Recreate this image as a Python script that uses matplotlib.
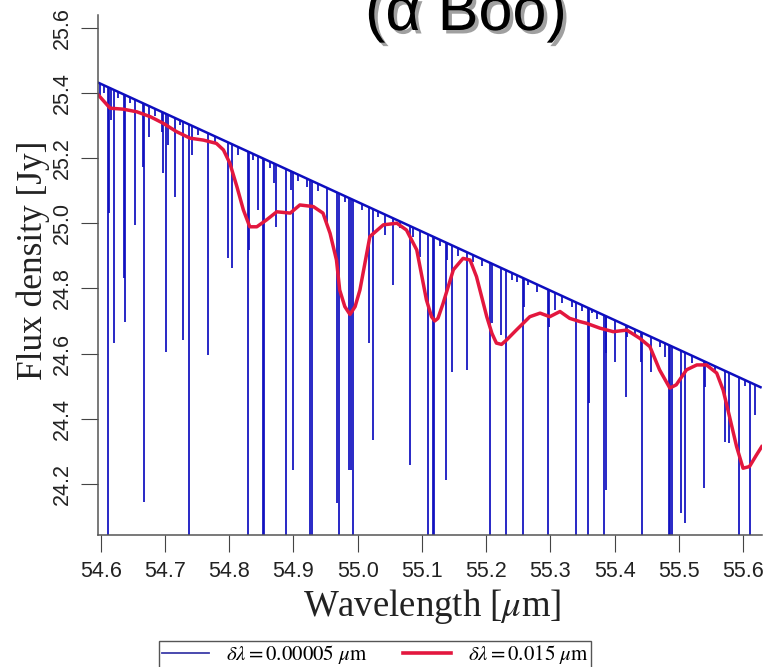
import numpy as np
import matplotlib
matplotlib.use('Agg')
import matplotlib.pyplot as plt
import matplotlib.patheffects as pe
from matplotlib.lines import Line2D

plt.rcParams['mathtext.fontset'] = 'stix'

# continuum of the high-resolution spectrum (end points)
cont_wl = [54.5953, 55.629]
cont_flux = [25.432, 24.495]

# absorption lines: centre wavelength and minimum flux
line_wl = [
    54.599, 54.6051, 54.6118, 54.6134, 54.6156, 54.6212, 54.6269, 54.6367, 54.6383, 54.6456,
    54.6534, 54.6654, 54.6669, 54.6752, 54.6845, 54.6949, 54.6974, 54.7011, 54.7052, 54.7156,
    54.7234, 54.7285, 54.7374, 54.7416, 54.7514, 54.7674, 54.7779, 54.7976, 54.8039, 54.8137,
    54.8288, 54.8308, 54.8365, 54.8453, 54.8521, 54.8541, 54.8635, 54.8702, 54.8723, 54.8879,
    54.8961, 54.8993, 54.9070, 54.9206, 54.9262, 54.9284, 54.9381, 54.9517, 54.9682, 54.9704,
    54.9801, 54.9869, 54.9890, 54.9931, 55.0062, 55.0175, 55.0242, 55.0315, 55.0424, 55.0544,
    55.0657, 55.0813, 55.0865, 55.0969, 55.1098, 55.1176, 55.1191, 55.1280, 55.1369, 55.1384,
    55.1472, 55.1560, 55.1696, 55.1798, 55.1933, 55.2063, 55.2085, 55.2229, 55.2307, 55.2405,
    55.2478, 55.2572, 55.2592, 55.2654, 55.2789, 55.2956, 55.2976, 55.3070, 55.3178, 55.3330,
    55.3392, 55.3490, 55.3588, 55.3604, 55.3641, 55.3723, 55.3837, 55.3859, 55.3874, 55.4014,
    55.4175, 55.4190, 55.4314, 55.4408, 55.4428, 55.4574, 55.4703, 55.4792, 55.4848, 55.4870,
    55.4890, 55.5041, 55.5093, 55.5201, 55.5393, 55.5409, 55.5559, 55.5715, 55.5778, 55.5938,
    55.6025, 55.6104, 55.6182,
]
line_min = [
    25.394, 25.40, 23.90, 25.031, 25.317, 24.633, 25.385, 24.832, 24.697, 25.37,
    24.995, 25.173, 24.145, 25.265, 25.33, 25.280, 25.154, 24.605, 25.240, 25.081,
    25.30, 24.642, 23.90, 25.209, 25.27, 24.596, 25.25, 24.893, 24.863, 25.21,
    23.90, 24.918, 25.194, 25.041, 23.90, 23.90, 25.17, 25.123, 24.988, 23.90,
    25.102, 24.243, 25.13, 25.111, 23.90, 23.90, 25.10, 25.001, 24.142, 23.90,
    25.065, 24.243, 24.243, 23.90, 25.041, 24.633, 24.335, 25.02, 24.964, 24.811,
    24.985, 24.258, 24.958, 24.896, 23.90, 23.90, 23.90, 24.93, 24.212, 24.887,
    24.544, 24.90, 24.550, 24.881, 24.87, 23.90, 24.694, 24.657, 23.90, 24.826,
    24.82, 23.90, 24.743, 24.811, 24.79, 23.90, 24.682, 24.734, 24.755, 24.743,
    23.90, 24.73, 23.90, 24.448, 24.725, 24.705, 23.90, 24.181, 24.602, 24.574,
    24.467, 24.651, 24.655, 24.574, 23.90, 24.544, 24.62, 24.590, 23.90, 23.90,
    23.90, 24.111, 24.080, 24.57, 24.188, 24.498, 24.54, 24.329, 24.326, 23.90,
    24.50, 23.90, 24.412,
]

# smoothed spectrum (delta lambda = 0.015 um)
smooth_wl = [
    54.596, 54.6145, 54.635, 54.656, 54.677, 54.697, 54.718, 54.739, 54.760, 54.780,
    54.791, 54.801, 54.812, 54.822, 54.832, 54.843, 54.858, 54.874, 54.895, 54.910,
    54.931, 54.946, 54.957, 54.967, 54.972, 54.980, 54.988, 54.996, 55.0035, 55.019,
    55.040, 55.061, 55.076, 55.092, 55.107, 55.115, 55.120, 55.125, 55.133, 55.149,
    55.164, 55.175, 55.185, 55.201, 55.209, 55.216, 55.224, 55.232, 55.247, 55.268,
    55.284, 55.299, 55.315, 55.330, 55.346, 55.356, 55.377, 55.398, 55.419, 55.439,
    55.455, 55.470, 55.486, 55.496, 55.512, 55.528, 55.543, 55.559, 55.569, 55.579,
    55.590, 55.600, 55.610, 55.621, 55.629,
]
smooth_flux = [
    25.394, 25.353, 25.350, 25.342, 25.327, 25.307, 25.281, 25.261, 25.255, 25.245,
    25.225, 25.184, 25.112, 25.041, 24.989, 24.989, 25.010, 25.035, 25.031, 25.056,
    25.051, 25.031, 24.969, 24.887, 24.795, 24.744, 24.720, 24.744, 24.795, 24.959,
    24.995, 25.000, 24.979, 24.918, 24.765, 24.713, 24.700, 24.708, 24.754, 24.857,
    24.892, 24.887, 24.836, 24.713, 24.662, 24.632, 24.628, 24.642, 24.672, 24.713,
    24.724, 24.713, 24.729, 24.708, 24.698, 24.693, 24.678, 24.667, 24.672, 24.647,
    24.621, 24.550, 24.494, 24.504, 24.550, 24.565, 24.565, 24.540, 24.488, 24.406,
    24.314, 24.248, 24.253, 24.289, 24.314,
]

xticks = [54.6, 54.7, 54.8, 54.9, 55.0, 55.1, 55.2, 55.3, 55.4, 55.5, 55.6]
yticks = [24.2, 24.4, 24.6, 24.8, 25.0, 25.2, 25.4, 25.6]

blue = '#0e0ebf'
red = '#e3173e'

fig = plt.figure(figsize=(7.8, 6.67), dpi=100)
ax = fig.add_axes([0.1253, 0.1979, 0.8512, 0.7796])

# high-resolution spectrum: continuum plus absorption lines
line_top = np.interp(line_wl, cont_wl, cont_flux)
ax.plot(cont_wl, cont_flux, color=blue, lw=1.8, solid_capstyle='butt')
ax.vlines(line_wl, line_min, line_top, color=blue, lw=1.25)

ax.plot(smooth_wl, smooth_flux, color=red, lw=2.5, solid_joinstyle='round')

ax.set_xlim(54.5953, 55.629)
ax.set_ylim(24.043, 25.639)

ax.set_xticks(xticks)
ax.set_xticklabels(['%.1f' % v for v in xticks], family='Liberation Sans')
ax.set_yticks(yticks)
ax.set_yticklabels(['%.1f' % v for v in yticks], family='Liberation Sans',
                   rotation=90, va='center')
ax.tick_params(direction='out', length=12, width=0.8, color='#444444',
               labelsize=15.5, labelcolor='#222222')
ax.tick_params(axis='x', pad=7)
ax.tick_params(axis='y', pad=6)

for s in ['top', 'right']:
    ax.spines[s].set_visible(False)
for s in ['left', 'bottom']:
    ax.spines[s].set_color('#555555')
    ax.spines[s].set_linewidth(1.1)

fig.text(33 / 780, 1 - 260 / 667, 'Flux density [Jy]', family='Liberation Serif',
         fontsize=25.5, rotation=90, ha='center', va='center', color='#222222')
fig.text(432 / 780, 1 - 606 / 667, r'Wavelength [$\mu$m]', family='Liberation Serif',
         fontsize=26.5, ha='center', va='center', color='#222222')

fig.text(466 / 780, 1 - 30 / 667, '(α Boo)', family='Liberation Sans', fontsize=44,
         ha='center', va='baseline',
         path_effects=[pe.withSimplePatchShadow(offset=(2.5, -2.5),
                                                shadow_rgbFace='#888888', alpha=0.8)])

handles = [Line2D([], [], color='#3c3ca8', lw=1.3),
           Line2D([], [], color=red, lw=2.6)]
labels = [r'$\delta\lambda = 0.00005\ \mu\mathrm{m}$', r'$\delta\lambda = 0.015\ \mu\mathrm{m}$']
fig.legend(handles, labels, loc='upper left', bbox_to_anchor=(159 / 780, 1 - 641 / 667),
           ncol=2, fontsize=15, frameon=True, fancybox=False, edgecolor='#555555',
           framealpha=1, borderaxespad=0, handlelength=2.3, columnspacing=1.7,
           handletextpad=0.8, borderpad=0.12)

fig.savefig('out.png', dpi=100)
